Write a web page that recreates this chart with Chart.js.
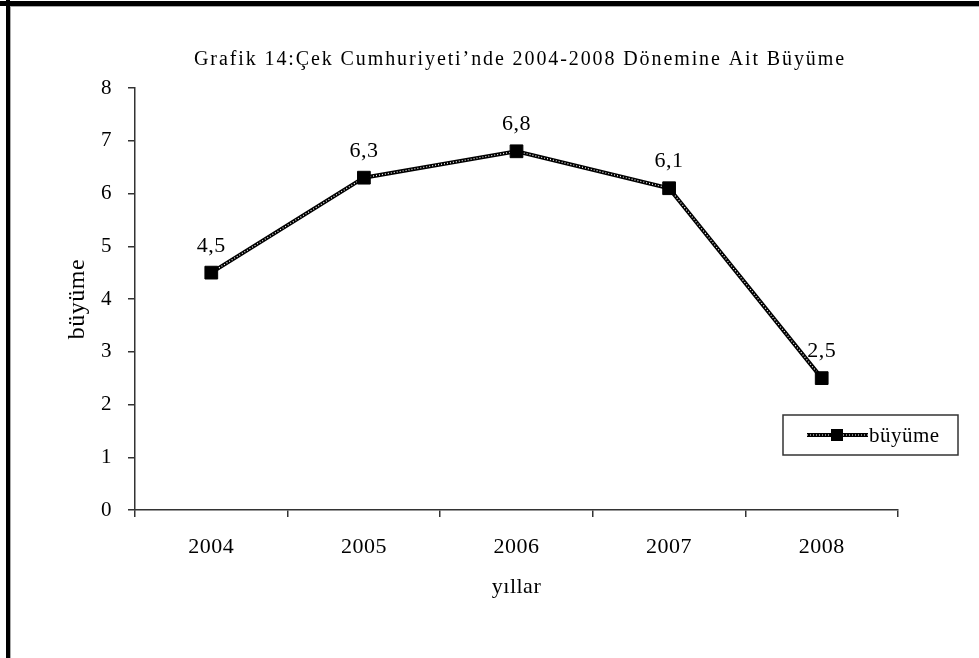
<!DOCTYPE html>
<html><head><meta charset="utf-8">
<script src="https://cdn.jsdelivr.net/npm/chart.js@4"></script>
<style>html,body{margin:0;padding:0;background:#fff}canvas{display:block}</style>
</head><body>
<canvas id="c" width="979" height="658"></canvas>
<script>
const years = ['2004', '2005', '2006', '2007', '2008'];
const growth = [4.5, 6.3, 6.8, 6.1, 2.5];
const yMin = 0, yMax = 8, yStep = 1;
const titleText = 'Grafik 14:Çek Cumhuriyeti’nde 2004-2008 Dönemine Ait Büyüme';
const seriesName = 'büyüme';
const xTitle = 'yıllar';
const yTitle = 'büyüme';

const SERIF = '"Liberation Serif", "Times New Roman", serif';
const INK = '#000';

function setLS(ctx, v) { try { ctx.letterSpacing = v; } catch (e) {} }

const framePlugin = {
  id: 'frame',
  beforeDraw(chart) {
    const ctx = chart.ctx;
    ctx.save();
    ctx.fillStyle = '#fff';
    ctx.fillRect(0, 0, chart.width, chart.height);
    ctx.fillStyle = '#000';
    ctx.fillRect(0, 1, chart.width, 5);
    ctx.fillRect(6, 0, 4, chart.height);
    ctx.fillStyle = '#aaa';
    ctx.fillRect(10, 6, chart.width, 1);
    ctx.fillRect(10, 6, 1, chart.height);
    ctx.restore();
    setLS(ctx, '0.5px');
  },
  afterDraw(chart) {
    const ctx = chart.ctx;
    ctx.save();
    // title
    ctx.font = '20px ' + SERIF;
    ctx.fillStyle = INK;
    ctx.textAlign = 'center';
    ctx.textBaseline = 'middle';
    setLS(ctx, '1.9px');
    ctx.fillText(titleText, 520, 60);
    setLS(ctx, '0.5px');
    // data labels
    const meta = chart.getDatasetMeta(2);
    ctx.font = '22px ' + SERIF;
    ctx.textBaseline = 'alphabetic';
    meta.data.forEach((pt, i) => {
      ctx.fillText(String(growth[i]).replace('.', ','), pt.x, pt.y - 21);
    });
    // legend
    const bx = 783, by = 415, bw = 175, bh = 40;
    ctx.strokeStyle = '#333';
    ctx.lineWidth = 1.5;
    ctx.strokeRect(bx, by, bw, bh);
    const ly = by + bh / 2;
    ctx.beginPath();
    ctx.moveTo(807, ly); ctx.lineTo(868, ly);
    ctx.strokeStyle = '#000'; ctx.lineWidth = 4; ctx.stroke();
    ctx.beginPath();
    ctx.setLineDash([1, 2]);
    ctx.moveTo(807, ly); ctx.lineTo(868, ly);
    ctx.strokeStyle = '#fff'; ctx.lineWidth = 1.2; ctx.stroke();
    ctx.setLineDash([]);
    ctx.fillStyle = '#000';
    ctx.fillRect(831, ly - 6, 12, 12);
    ctx.fillStyle = INK;
    ctx.font = '21px ' + SERIF;
    ctx.textAlign = 'left';
    ctx.textBaseline = 'middle';
    ctx.fillText(seriesName, 869, ly + 1);
    ctx.restore();
    setLS(ctx, '0px');
  }
};

new Chart(document.getElementById('c'), {
  type: 'line',
  data: {
    labels: years,
    datasets: [
      { label: seriesName, data: growth, borderColor: '#000', borderWidth: 4, pointRadius: 0, fill: false, tension: 0, order: 3 },
      { label: seriesName + '_tex', data: growth, borderColor: '#fff', borderWidth: 1.2, borderDash: [1, 2], pointRadius: 0, fill: false, tension: 0, order: 2 },
      { label: seriesName + '_pts', data: growth, showLine: false, pointStyle: 'rect', pointRadius: 9, pointBackgroundColor: '#000', pointBorderColor: '#000', pointBorderWidth: 1, order: 1 }
    ]
  },
  options: {
    responsive: false,
    animation: false,
    layout: { padding: { left: 63, top: 88, right: 81, bottom: 58 } },
    plugins: { legend: { display: false }, title: { display: false }, tooltip: { enabled: false } },
    scales: {
      x: {
        type: 'category',
        offset: true,
        grid: { offset: true, drawOnChartArea: false, drawTicks: true, tickLength: 7, color: '#333', lineWidth: 1.5 },
        border: { display: true, color: '#333', width: 1.5 },
        ticks: { font: { family: SERIF, size: 22 }, color: INK, padding: 17 },
        title: { display: true, text: xTitle, font: { family: SERIF, size: 22 }, color: INK, padding: 0 },
        afterFit(s) { s.height = 90; }
      },
      y: {
        min: yMin, max: yMax,
        ticks: { stepSize: yStep, font: { family: SERIF, size: 21 }, color: INK, padding: 16 },
        grid: { drawOnChartArea: false, drawTicks: true, tickLength: 7, color: '#333', lineWidth: 1.5 },
        border: { display: true, color: '#333', width: 1.5 },
        title: { display: true, text: yTitle, font: { family: SERIF, size: 24 }, color: INK, padding: 0 },
        afterFit(s) { s.width = 72; }
      }
    }
  },
  plugins: [framePlugin]
});
</script>
</body></html>
